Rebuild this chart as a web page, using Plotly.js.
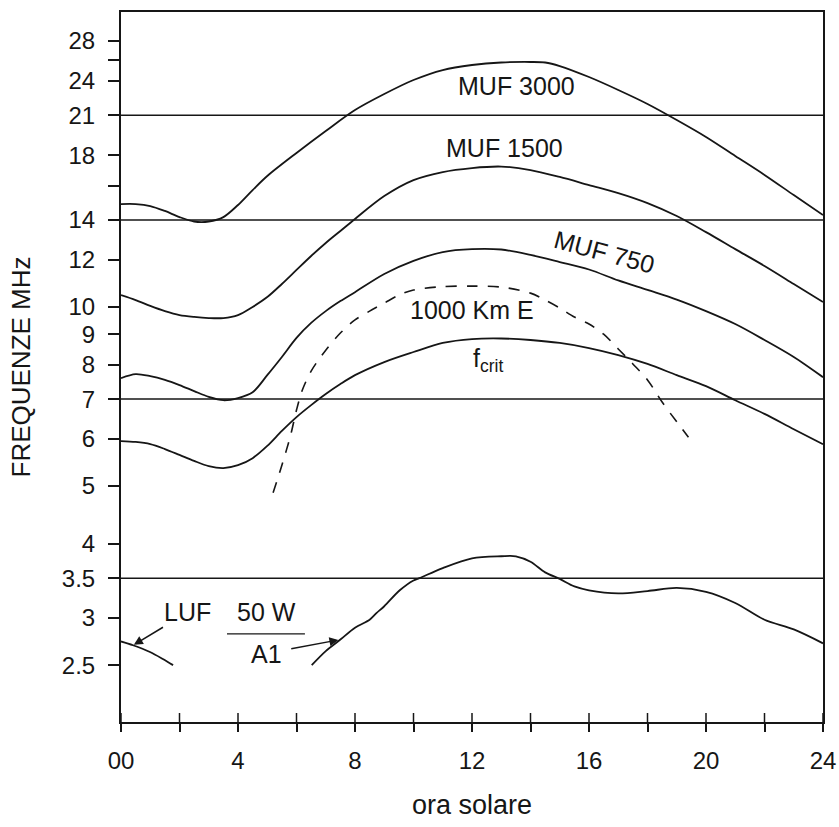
<!DOCTYPE html>
<html>
<head>
<meta charset="utf-8">
<script src="https://cdn.plot.ly/plotly-3.0.1.min.js"></script>
<style>
html,body{margin:0;padding:0;background:#ffffff;}
#chart{width:839px;height:827px;}
</style>
</head>
<body>
<div id="chart"></div>
<script>
// ---- data (hour of solar time, frequency in MHz) ----
const muf3000Hours = [0,0.5,1,1.5,2,2.5,3,3.5,4,4.5,5,6,7,8,9,10,11,12,13,14,14.5,15,16,17,18,19,20,21,22,23,24];
const muf3000 = [14.89,14.89,14.78,14.50,14.16,13.92,13.92,14.16,14.84,15.72,16.60,18.15,19.76,21.43,22.80,24.07,25.02,25.51,25.76,25.81,25.76,25.41,24.35,23.16,21.94,20.62,19.31,17.94,16.67,15.42,14.27];

const dayHours = [0,0.5,1,1.5,2,2.5,3,3.5,4,4.5,5,5.5,6,6.5,7,7.5,8,9,10,11,12,13,14,15,16,17,18,19,20,21,22,23,24];
const muf1500 = [10.47,10.27,10.04,9.84,9.69,9.62,9.58,9.58,9.69,10.0,10.39,10.93,11.54,12.18,12.81,13.42,14.06,15.36,16.34,16.86,17.12,17.22,16.99,16.54,16.03,15.54,14.95,14.22,13.36,12.51,11.72,10.93,10.19];
const muf750 = [7.59,7.71,7.65,7.54,7.39,7.22,7.06,6.97,7.03,7.19,7.68,8.24,8.87,9.40,9.84,10.23,10.59,11.36,11.95,12.37,12.51,12.49,12.23,11.90,11.56,11.08,10.68,10.29,9.84,9.36,8.80,8.24,7.62];
const fcrit = [5.95,5.93,5.88,5.77,5.64,5.51,5.40,5.36,5.42,5.57,5.84,6.19,6.53,6.84,7.14,7.42,7.68,8.08,8.40,8.70,8.83,8.85,8.80,8.70,8.53,8.30,8.02,7.68,7.36,6.97,6.61,6.23,5.88];

const eLayerHours = [5.2,5.5,5.8,6,6.2,6.5,7,7.5,8,8.5,9,9.5,10,11,12,13,14,14.5,15,15.5,16,16.5,17,17.5,18,18.5,19,19.4];
const eLayer1000 = [4.87,5.42,6.09,6.71,7.25,7.80,8.46,9.04,9.51,9.84,10.15,10.47,10.68,10.82,10.84,10.80,10.55,10.27,9.96,9.62,9.36,9.00,8.50,8.02,7.54,6.92,6.41,6.04];

const lufHours = [0,0.41,0.99,1.43,1.78];
const luf = [2.74,2.70,2.63,2.56,2.5];

const a1Hours = [6.52,7,7.5,8,8.5,8.74,9,9.53,10,10.2,11,12,13,13.5,14,14.5,15,15.5,16,17,18,19,20,21,22,23,24];
const a1 = [2.5,2.64,2.76,2.89,2.98,3.06,3.14,3.34,3.47,3.50,3.64,3.78,3.81,3.81,3.73,3.58,3.49,3.39,3.34,3.30,3.33,3.37,3.32,3.18,2.98,2.87,2.72];

const refLevels = [21, 14, 7, 3.5];
const refHours = [0, 24];

const yTickVals = [2.5,3,3.5,4,5,6,7,8,9,10,12,14,18,21,24,28];
const yTickText = ['2.5','3','3.5','4','5','6','7','8','9','10','12','14','18','21','24','28'];
const yMinorVals = [16, 26];
const xTickVals = [0,4,8,12,16,20,24];
const xTickText = ['00','4','8','12','16','20','24'];
const xMinorVals = [2,6,10,14,18,22];
const xAllTicks = [0,2,4,6,8,10,12,14,16,18,20,22,24];

// ---- chart ----
const ink = '#161616';
const FONT = '"Liberation Sans", Arial, Helvetica, sans-serif';

function curve(x, y, extra) {
  return Object.assign({
    type: 'scatter', mode: 'lines', x: x, y: y, hoverinfo: 'skip',
    line: {color: ink, width: 1.8, shape: 'spline', smoothing: 0.9}
  }, extra || {});
}

const traces = [];
refLevels.forEach(function (lv) {
  traces.push({type: 'scatter', mode: 'lines', x: refHours, y: [lv, lv],
    hoverinfo: 'skip', line: {color: ink, width: 1.5}});
});
traces.push(curve(muf3000Hours, muf3000));
traces.push(curve(dayHours, muf1500));
traces.push(curve(dayHours, muf750));
traces.push(curve(dayHours, fcrit));
traces.push(curve(eLayerHours, eLayer1000, {line: {color: ink, width: 1.6, dash: '11px,10px', shape: 'spline', smoothing: 0.9}}));
traces.push(curve(lufHours, luf));
traces.push(curve(a1Hours, a1));

const annFont = {family: FONT, size: 25, color: ink};
function label(text, x, y, extra) {
  return Object.assign({text: text, xref: 'paper', yref: 'paper', x: x, y: y,
    xanchor: 'center', yanchor: 'middle', showarrow: false, font: annFont}, extra || {});
}

// inner half of the x ticks (the reference ticks cross the axis line)
const innerTicks = xAllTicks.map(function (t) {
  return {type: 'line', xref: 'x', yref: 'paper', x0: t, x1: t, y0: 0, y1: 0.0127,
    line: {color: ink, width: 1.5}};
});

const layout = {
  width: 839, height: 827,
  margin: {l: 121, r: 16, t: 12, b: 105, pad: 0},
  paper_bgcolor: '#ffffff', plot_bgcolor: '#ffffff',
  showlegend: false,
  font: {family: FONT, size: 24, color: ink},
  xaxis: {
    range: [0, 24], tickvals: xTickVals, ticktext: xTickText,
    ticks: 'outside', ticklen: 8, tickwidth: 1.5, tickcolor: ink,
    minor: {tickvals: xMinorVals, ticks: 'outside', ticklen: 8, tickwidth: 1.5, tickcolor: ink, showgrid: false},
    showline: true, linecolor: ink, linewidth: 2, mirror: true,
    showgrid: false, zeroline: false, ticklabelstandoff: 8,
    tickfont: {family: FONT, size: 24, color: ink},
    title: {text: 'ora solare', font: {family: FONT, size: 27, color: ink}, standoff: 22}
  },
  yaxis: {
    type: 'log', range: [Math.log10(2.006), Math.log10(31.32)],
    tickvals: yTickVals, ticktext: yTickText,
    ticks: 'outside', ticklen: 11, tickwidth: 1.5, tickcolor: ink,
    minor: {tickvals: yMinorVals, ticks: 'outside', ticklen: 11, tickwidth: 1.5, tickcolor: ink, showgrid: false},
    showline: true, linecolor: ink, linewidth: 2, mirror: true,
    showgrid: false, zeroline: false, ticklabelstandoff: 8,
    tickfont: {family: FONT, size: 24, color: ink},
    title: {text: 'FREQUENZE MHz', font: {family: FONT, size: 26, color: ink}, standoff: 24}
  },
  annotations: [
    label('MUF 3000', 0.564, 0.896),
    label('MUF 1500', 0.547, 0.808),
    label('MUF 750', 0.689, 0.662, {textangle: 15}),
    label('1000 Km E', 0.500, 0.580),
    label('f<sub>crit</sub>', 0.523, 0.510),
    label('50 W', 0.2066, 0.155),
    {text: 'LUF', xref: 'x', yref: 'y', x: lufHours[1], y: Math.log10(luf[1]),
     ax: 55, ay: -33, showarrow: true, arrowhead: 2, arrowsize: 1.2, arrowwidth: 1.5,
     arrowcolor: ink, font: annFont, standoff: 1},
    {text: 'A1', xref: 'x', yref: 'y', x: a1Hours[2], y: Math.log10(a1[2]),
     ax: -74, ay: 14, showarrow: true, arrowhead: 2, arrowsize: 1.2, arrowwidth: 1.5,
     arrowcolor: ink, font: annFont, standoff: 2, startstandoff: 8}
  ],
  shapes: [
    {type: 'line', xref: 'paper', yref: 'paper', x0: 0.151, x1: 0.262, y0: 0.124, y1: 0.124,
     line: {color: ink, width: 1.2}}
  ].concat(innerTicks)
};

Plotly.newPlot('chart', traces, layout, {displayModeBar: false, responsive: false});
</script>
</body>
</html>
